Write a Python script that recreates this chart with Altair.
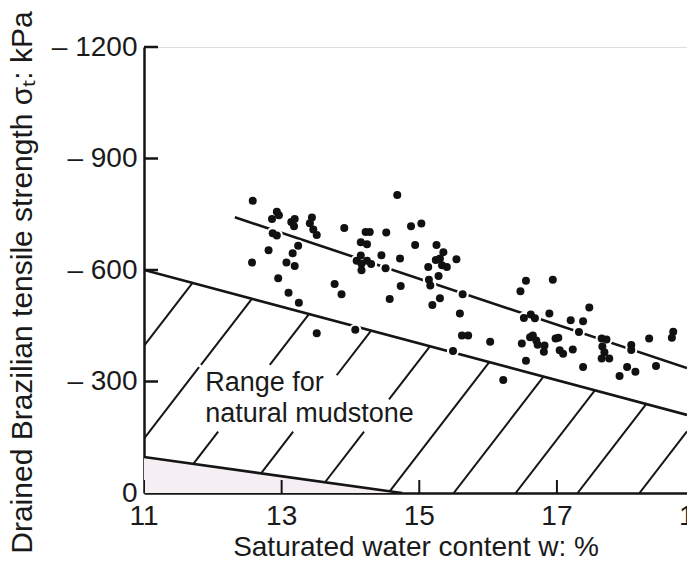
import altair as alt
import pandas as pd

FONT = "Liberation Sans"
INK = "#151515"

# ---- data ----------------------------------------------------------------
# saturated water content w (%) and drained Brazilian tensile strength (kPa)
w_pts = [12.58, 12.93, 12.96, 12.86, 13.14, 13.19, 13.18, 13.44, 13.41, 13.46,
         13.51, 13.91, 12.87, 12.93, 13.24, 13.16, 12.81, 12.57, 13.07, 13.19,
         12.95, 13.77, 13.87, 13.10, 13.25, 13.51, 14.07, 14.68, 14.22, 14.28,
         14.52, 14.88, 15.03, 14.15, 14.24, 14.94, 15.25, 15.35, 15.54, 14.09,
         14.15, 14.16, 14.24, 14.30, 14.16, 14.45, 14.72, 14.51, 15.13, 15.24,
         15.30, 15.33, 15.40, 15.28, 15.14, 15.16, 14.73, 14.57, 15.30, 15.19,
         15.63, 15.59, 15.49, 15.62, 15.71, 16.03, 16.22, 16.55, 16.94, 16.47,
         16.52, 16.62, 16.68, 16.89, 17.47, 17.20, 17.38, 17.32, 16.61, 16.65,
         16.70, 16.72, 16.49, 16.82, 16.81, 16.98, 17.02, 17.04, 17.09, 17.23,
         16.55, 17.38, 17.65, 17.72, 17.66, 17.69, 17.65, 17.76, 18.08, 18.08,
         18.02, 18.14, 17.91, 18.34, 18.44, 18.69, 18.67]
s_pts = [786, 757, 747, 737, 729, 737, 718, 741, 726, 709,
         694, 713, 699, 693, 665, 645, 653, 620, 620, 611,
         578, 562, 535, 539, 512, 430, 439, 802, 702, 702,
         701, 718, 725, 675, 669, 667, 667, 648, 629, 625,
         639, 617, 625, 616, 599, 640, 631, 605, 608, 627,
         631, 613, 608, 584, 574, 558, 557, 522, 524, 506,
         535, 483, 382, 424, 424, 407, 304, 571, 574, 543,
         471, 480, 470, 483, 499, 465, 462, 433, 419, 424,
         410, 399, 402, 397, 380, 416, 418, 384, 375, 386,
         356, 339, 416, 413, 394, 379, 362, 362, 398, 385,
         339, 326, 315, 416, 342, 434, 418]

# fitted trend line (end points)
fit_w = [12.32, 18.89]
fit_s = [742, 336]

# range for natural mudstone: upper and lower boundaries
upper_w = [11.0, 18.89]
upper_s = [600, 210]
lower_w = [11.0, 14.75]
lower_s = [97, 0]

# hatch lines: where each would cross 0 kPa, and their common slope (kPa per %)
hatch_w0 = [9.35, 10.39, 11.39, 12.48, 13.51, 14.55, 15.5, 16.4, 17.3, 18.2]
hatch_slope = 240.0

# annotation
label_lines = ["Range for", "natural mudstone"]
label_w = [11.89, 11.89]
label_s = [274, 191]
# areas kept free of hatching around the annotation (w_min, w_max, s_min, s_max)
text_boxes = [(11.8, 13.8, 252, 345), (11.8, 15.15, 165, 252)]

x_ticks = [11, 13, 15, 17, 19]
y_ticks = [0, 300, 600, 900, 1200]
x_max = 18.89

# ---- build hatch segments from the boundaries -----------------------------
m_l = (lower_s[1] - lower_s[0]) / (lower_w[1] - lower_w[0])
m_u = (upper_s[1] - upper_s[0]) / (upper_w[1] - upper_w[0])
segs = []
for w0 in hatch_w0:
    k = hatch_slope
    if w0 >= lower_w[1]:
        ws = w0
    else:
        ws = (k * w0 + lower_s[0] - m_l * lower_w[0]) / (k - m_l)
    ws = max(ws, lower_w[0])
    we = (k * w0 + upper_s[0] - m_u * upper_w[0]) / (k - m_u)
    we = min(we, x_max)
    if ws >= we:
        continue
    s_start, s_end = k * (ws - w0), k * (we - w0)
    pieces = [(s_start, s_end)]
    for (bw0, bw1, bs0, bs1) in text_boxes:
        lo = max(bs0, k * (bw0 - w0))
        hi = min(bs1, k * (bw1 - w0))
        if lo >= hi:
            continue
        new = []
        for a, b in pieces:
            if hi <= a or lo >= b:
                new.append((a, b))
            else:
                if lo > a:
                    new.append((a, lo))
                if hi < b:
                    new.append((hi, b))
        pieces = new
    for a, b in pieces:
        segs.append({"w": w0 + a / k, "s": a, "w2": w0 + b / k, "s2": b})
hatch_df = pd.DataFrame(segs)

pts_df = pd.DataFrame({"w": w_pts, "s": s_pts})
fit_df = pd.DataFrame({"w": fit_w, "s": fit_s})
bound_df = pd.DataFrame({
    "w": upper_w + lower_w,
    "s": upper_s + lower_s,
    "line": ["upper", "upper", "lower", "lower"],
})
lower_df = pd.DataFrame({"w": lower_w, "s": lower_s})
label_df = pd.DataFrame({"w": label_w, "s": label_s, "t": label_lines})
xt_df = pd.DataFrame({"w": x_ticks, "t": [str(v) for v in x_ticks]})
yt_df = pd.DataFrame({"s": [v for v in y_ticks if v > 0]})

W, H = 543, 446
xs = alt.Scale(domain=[11, x_max], nice=False, zero=False)
ys = alt.Scale(domain=[0, 1200], nice=False)

x_axis = alt.Axis(title="Saturated water content w: %", labels=False, ticks=False,
                  grid=False, domainColor=INK, domainWidth=2.5,
                  titleFont=FONT, titleFontSize=28, titleFontWeight="normal",
                  titleColor="#1a1a1a", titleY=62, titleBaseline="alphabetic")
y_axis = alt.Axis(title="Drained Brazilian tensile strength σₜ: kPa", values=y_ticks,
                  labelExpr="datum.value == 0 ? '0' : '– ' + datum.value",
                  ticks=False, grid=False, domainColor=INK, domainWidth=2.5,
                  labelFont=FONT, labelFontSize=28, labelColor="#1a1a1a", labelPadding=7,
                  titleFont=FONT, titleFontSize=30, titleFontWeight="normal",
                  titleColor="#1a1a1a", titleAngle=270, titleX=-113, titleY=235,
                  titleBaseline="alphabetic", titleAlign="center")


def X(f="w"):
    return alt.X(f"{f}:Q", scale=xs, axis=x_axis)


def Y(f="s"):
    return alt.Y(f"{f}:Q", scale=ys, axis=y_axis)


fill = alt.Chart(lower_df).mark_area(color="#f5eef3", clip=True).encode(x=X(), y=Y())

hatch = alt.Chart(hatch_df).mark_rule(color=INK, strokeWidth=2, clip=True).encode(
    x=X(), y=Y(), x2="w2:Q", y2="s2:Q")

bounds = alt.Chart(bound_df).mark_line(color=INK, strokeWidth=2.6, clip=True).encode(
    x=X(), y=Y(), detail="line:N")

fit = alt.Chart(fit_df).mark_line(color=INK, strokeWidth=2.6, clip=True).encode(x=X(), y=Y())

halo = alt.Chart(pts_df).mark_circle(color="white", opacity=1, size=150).encode(x=X(), y=Y())
dots = alt.Chart(pts_df).mark_circle(color="#111111", opacity=1, size=64).encode(x=X(), y=Y())

labels = alt.Chart(label_df).mark_text(font=FONT, fontSize=27, align="left",
                                       baseline="alphabetic", color="#1a1a1a").encode(
    x=X(), y=Y(), text="t:N")

xticks = alt.Chart(xt_df).mark_rule(color=INK, strokeWidth=2, clip=True).encode(
    x=X(), y=alt.value(H), y2=alt.value(H - 13))
yticks = alt.Chart(yt_df).mark_rule(color=INK, strokeWidth=2.5).encode(
    y=Y(), x=alt.value(0), x2=alt.value(14))

xlabels = alt.Chart(xt_df).mark_text(font=FONT, fontSize=28, baseline="top",
                                     align="center", color="#1a1a1a").encode(
    x=X(), y=alt.value(H + 10), text="t:N")

chart = alt.layer(fill, hatch, bounds, fit, halo, dots, labels, xticks, yticks, xlabels).properties(
    width=W, height=H,
    autosize=alt.AutoSizeParams(type="none"),
    padding={"left": 144, "top": 47, "right": 0, "bottom": 75},
).configure_view(stroke=None).configure(background="white")

chart.save("out.html", embed_options={"renderer": "svg", "actions": False})
